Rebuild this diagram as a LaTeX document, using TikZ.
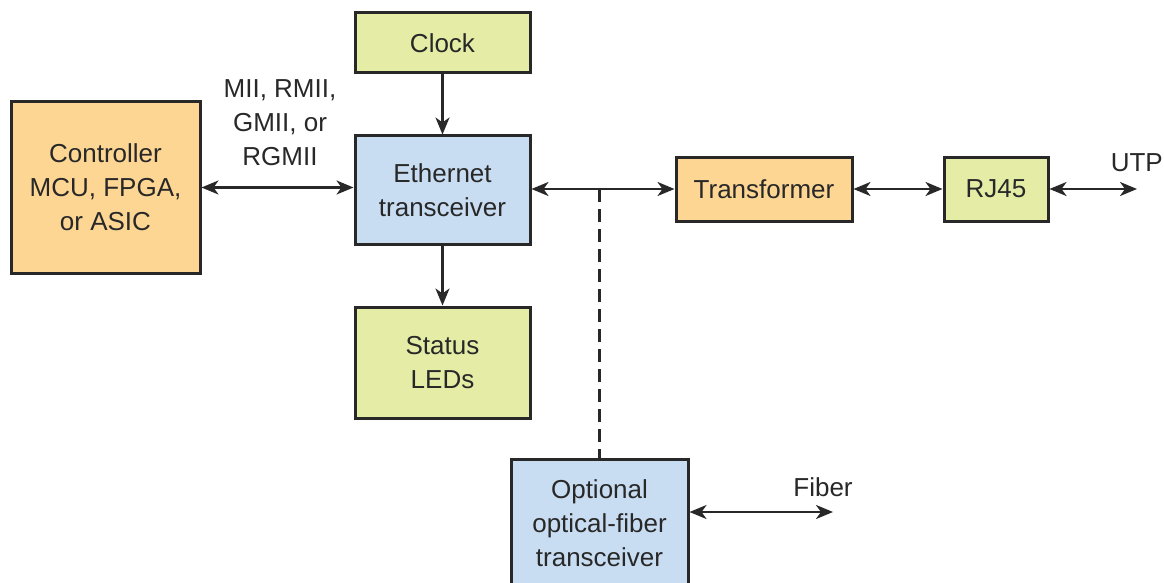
\documentclass[tikz,border=0pt]{standalone}
\usepackage{fontspec}
\setmainfont{Liberation Sans}
\usetikzlibrary{arrows.meta}
\definecolor{boxgreen}{RGB}{228,236,166}
\definecolor{boxorange}{RGB}{253,214,148}
\definecolor{boxblue}{RGB}{201,221,242}
\definecolor{ink}{RGB}{40,40,40}
\begin{document}
\begin{tikzpicture}[x=1pt,y=-1pt,
  blk/.style={draw=ink, line width=3pt, text=ink, align=center, inner sep=0pt,
    font=\fontsize{26}{34}\selectfont},
  lbl/.style={text=ink, align=center, inner sep=0pt, font=\fontsize{26}{34}\selectfont},
  tip/.tip={Stealth[length=17pt,width=14pt,inset=5pt]},
  conn/.style={draw=ink, line width=2.4pt, tip-tip},
  arr/.style={draw=ink, line width=2.4pt, -tip},
  dash link/.style={draw=ink, line width=2.6pt, dash pattern=on 13pt off 7pt}
]
\useasboundingbox (0,0) rectangle (1164,583);
\fill[white] (0,0) rectangle (1164,583);

\node[blk, fill=boxorange, minimum width=189pt, minimum height=171pt] (ctrl) at (105.5,187.5) {Controller\\MCU, FPGA,\\or ASIC};
\node[blk, fill=boxgreen, minimum width=175pt, minimum height=60pt] (clock) at (442.5,43) {Clock};
\node[blk, fill=boxblue, minimum width=175pt, minimum height=108pt] (eth) at (442.5,190) {Ethernet\\transceiver};
\node[blk, fill=boxgreen, minimum width=175pt, minimum height=111pt] (status) at (442.5,362.5) {Status\\LEDs};
\node[blk, fill=boxorange, minimum width=176pt, minimum height=64pt] (tr) at (764,189) {Transformer};
\node[blk, fill=boxgreen, minimum width=104pt, minimum height=64pt] (rj) at (996,189) {RJ45};
\node[blk, fill=boxblue, minimum width=177pt, minimum height=128pt] (opt) at (599.5,523) {Optional\\optical-fiber\\transceiver};

\node[lbl] (mii) at (280,123) {MII, RMII,\\GMII, or\\RGMII};
\node[lbl, anchor=east] (utp) at (1163,163) {UTP};
\node[lbl] (fiber) at (823,487) {Fiber};

\coordinate (utpend) at (1137,189);
\coordinate (fibend) at (833,512);
\coordinate (jn) at (opt.north |- tr.west);

\draw[arr] (clock) -- (eth);
\draw[arr] (eth) -- (status);
\draw[conn] (ctrl.east) -- (ctrl.east -| eth.west);
\draw[conn] (eth.east |- tr.west) -- (tr.west);
\draw[conn] (tr) -- (rj);
\draw[conn] (rj.east) -- (utpend);
\draw[dash link] (jn) -- (opt.north);
\draw[conn] (opt.east |- fibend) -- (fibend);
\end{tikzpicture}
\end{document}
